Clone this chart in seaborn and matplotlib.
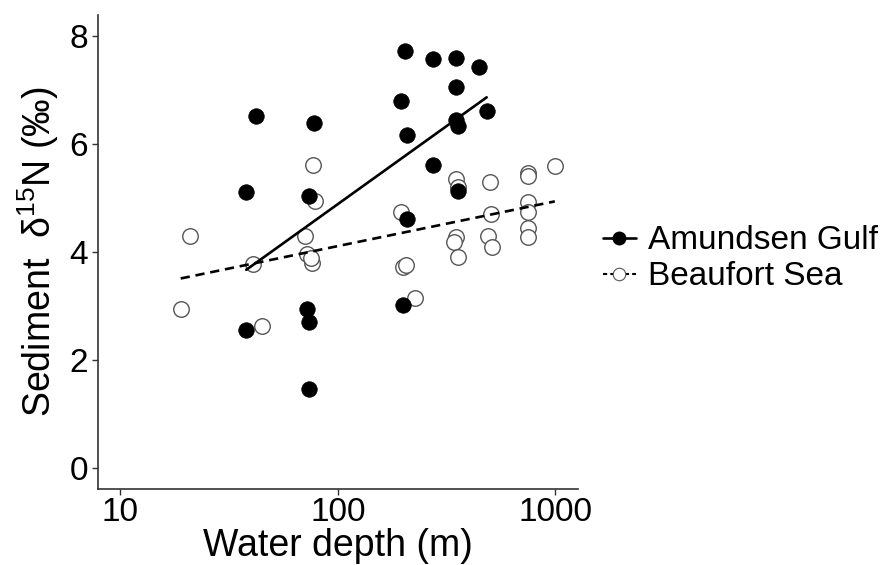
import numpy as np
import pandas as pd
import seaborn as sns
import matplotlib.pyplot as plt
from matplotlib.lines import Line2D

# ---- data ----
amundsen_depth = [42, 78, 38, 74, 204, 274, 348, 447, 348, 195, 483, 348, 357,
                  208, 275, 357, 208, 38, 72, 74, 74, 200]
amundsen_d15n = [6.52, 6.38, 5.12, 5.04, 7.73, 7.57, 7.60, 7.42, 7.06, 6.80, 6.62,
                 6.44, 6.33, 6.17, 5.62, 5.13, 4.62, 2.56, 2.94, 2.70, 1.46, 3.02]

beaufort_depth = [77, 79, 21, 71, 348, 355, 498, 750, 750, 993, 195, 507, 750, 750,
                  351, 343, 490, 510, 750, 750, 41, 72, 76, 75, 19, 45, 200, 205,
                  226, 355]
beaufort_d15n = [5.62, 4.94, 4.30, 4.30, 5.35, 5.21, 5.29, 5.47, 5.41, 5.60, 4.74,
                 4.71, 4.92, 4.74, 4.28, 4.19, 4.30, 4.10, 4.44, 4.28, 3.78, 3.96,
                 3.80, 3.88, 2.95, 2.62, 3.73, 3.75, 3.14, 3.90]

group_labels = ["Amundsen Gulf", "Beaufort Sea"]
x_ticks = [10, 100, 1000]
y_ticks = [0, 2, 4, 6, 8]

sns.set_theme(style="white")
plt.rcParams["font.family"] = ["Liberation Sans", "DejaVu Sans"]
plt.rcParams["mathtext.fontset"] = "custom"
plt.rcParams["mathtext.rm"] = "Liberation Sans"
plt.rcParams["mathtext.it"] = "Liberation Sans:italic"
plt.rcParams["text.color"] = "black"
plt.rcParams["axes.labelcolor"] = "black"
plt.rcParams["xtick.labelcolor"] = "black"
plt.rcParams["ytick.labelcolor"] = "black"

df_a = pd.DataFrame({"depth": amundsen_depth, "d15n": amundsen_d15n})
df_b = pd.DataFrame({"depth": beaufort_depth, "d15n": beaufort_d15n})

fig = plt.figure(figsize=(8.93, 5.65), dpi=100)
ax = fig.add_axes([0.1097, 0.1345, 0.5375, 0.839])

# points
sns.scatterplot(data=df_b, x="depth", y="d15n", ax=ax, s=125, marker="o",
                facecolor="white", edgecolor="#555555", linewidth=1.0, zorder=2)
sns.scatterplot(data=df_a, x="depth", y="d15n", ax=ax, s=125, marker="o",
                color="black", edgecolor="black", linewidth=0.5, zorder=3)

# regression lines (y ~ log10 x)
sns.regplot(data=df_a, x="depth", y="d15n", logx=True, ci=None, scatter=False,
            ax=ax, line_kws=dict(color="black", lw=1.9, ls="-", zorder=4))
sns.regplot(data=df_b, x="depth", y="d15n", logx=True, ci=None, scatter=False,
            ax=ax, line_kws=dict(color="black", lw=1.9, ls=(0, (3.5, 2.2)), zorder=4))

ax.set_xscale("log")
ax.set_xlim(7.92, 1268)
ax.set_ylim(-0.39, 8.39)
ax.set_xticks(x_ticks)
ax.set_xticklabels([str(t) for t in x_ticks])
ax.set_yticks(y_ticks)
ax.set_yticklabels([str(t) for t in y_ticks])
ax.minorticks_off()

ax.tick_params(axis="both", which="major", labelsize=24, length=4, width=1.0,
               color="#333333", labelcolor="black", direction="out",
               bottom=True, left=True, pad=3)
ax.tick_params(axis="x", pad=2)
for s in ["top", "right"]:
    ax.spines[s].set_visible(False)
for s in ["left", "bottom"]:
    ax.spines[s].set_color("#333333")
    ax.spines[s].set_linewidth(1.2)

ax.set_xlabel("Water depth (m)", fontsize=27, labelpad=0, color="black")
ax.set_ylabel("Sediment  δ$^{15}$N (‰)", fontsize=27, labelpad=6, color="black")

handles = [
    Line2D([0], [0], color="black", lw=1.9, ls="-", marker="o", markersize=9,
           markerfacecolor="black", markeredgecolor="black"),
    Line2D([0], [0], color="black", lw=1.5, ls=(0, (2, 1.5)), marker="o", markersize=9,
           markerfacecolor="white", markeredgecolor="#555555", markeredgewidth=0.8),
]
leg = fig.legend(handles, group_labels, loc="center left", bbox_to_anchor=(0.675, 0.5416),
                 frameon=False, fontsize=24, handlelength=1.0, handletextpad=0.35,
                 labelspacing=0.15, borderpad=0, borderaxespad=0)
for t in leg.get_texts():
    t.set_color("black")

fig.savefig("out.png", dpi=100)
